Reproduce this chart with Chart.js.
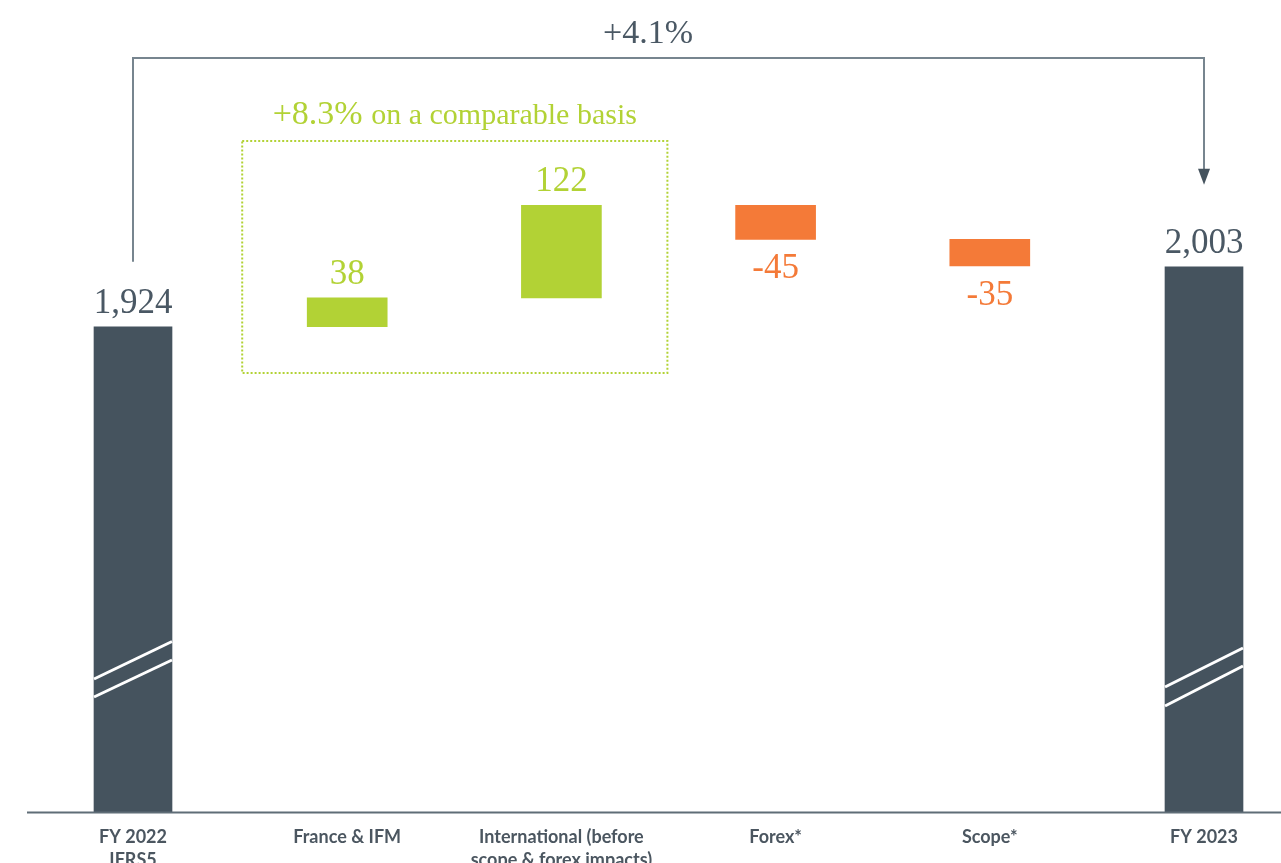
<!DOCTYPE html>
<html><head><meta charset="utf-8">
<script src="https://cdn.jsdelivr.net/npm/chart.js@4.4.1/dist/chart.umd.min.js"></script>
<style>html,body{margin:0;padding:0;background:#fff;overflow:hidden;}</style>
</head><body>
<canvas id="c" width="1281" height="863"></canvas>
<script>
// ---- data ----
const categories = [["FY 2022", "IFRS5"], "France & IFM", ["International (before", "scope & forex impacts)"], "Forex*", "Scope*", "FY 2023"];
const startTotal = 1924;
const endTotal = 2003;
const changes = [38, 122, -45, -35];
const totalGrowthLabel = "+4.1%";
const comparableGrowthLabel = "+8.3%";
const comparableText = "on a comparable basis";

// ---- styles ----
const DARK = '#45535e';
const GREEN = '#b2d235';
const ORANGE = '#f47a38';
const TEXT_DARK = '#4a5864';
const SERIF = '"Liberation Serif", serif';

const totalsData = categories.map((c, i) => i === 0 ? startTotal : (i === categories.length - 1 ? endTotal : null));
let running = startTotal;
const changesData = [null];
changes.forEach(v => { changesData.push([running, running + v]); running += v; });
changesData.push(null);
const changeValues = [null, ...changes, null];

const valueLabels = {
  id: 'valueLabels',
  afterDatasetsDraw(chart) {
    const ctx = chart.ctx;
    ctx.save();
    ctx.textAlign = 'center';
    ctx.textBaseline = 'alphabetic';
    ctx.font = '35px ' + SERIF;
    chart.getDatasetMeta(0).data.forEach((el, i) => {
      const v = totalsData[i];
      if (v == null) return;
      ctx.fillStyle = TEXT_DARK;
      ctx.fillText(v.toLocaleString('en-US'), el.x, el.y - 14);
    });
    chart.getDatasetMeta(1).data.forEach((el, i) => {
      const v = changeValues[i];
      if (v == null) return;
      const top = Math.min(el.y, el.base), bottom = Math.max(el.y, el.base);
      if (v >= 0) {
        ctx.fillStyle = GREEN;
        ctx.fillText(String(v), el.x, top - 14);
      } else {
        ctx.fillStyle = ORANGE;
        ctx.fillText(String(v), el.x, bottom + 39);
      }
    });
    // break marks on totals
    const breaks = {0: [[133, 170.5], [115, 152]], 5: [[125, 164], [106, 146]]};
    const area = chart.chartArea;
    ctx.strokeStyle = '#ffffff';
    ctx.lineWidth = 3;
    chart.getDatasetMeta(0).data.forEach((el, i) => {
      if (!breaks[i]) return;
      const l = el.x - el.width / 2, r = el.x + el.width / 2;
      breaks[i].forEach(([a, b]) => {
        ctx.beginPath();
        ctx.moveTo(l, area.bottom - a);
        ctx.lineTo(r, area.bottom - b);
        ctx.stroke();
      });
    });
    ctx.restore();
  },
  afterDraw(chart) {
    const ctx = chart.ctx;
    const area = chart.chartArea;
    const tm = chart.getDatasetMeta(0).data;
    const cm = chart.getDatasetMeta(1).data;
    ctx.save();
    // baseline axis
    ctx.strokeStyle = '#5f6d77';
    ctx.lineWidth = 2;
    ctx.beginPath();
    ctx.moveTo(27, area.bottom + 0.5);
    ctx.lineTo(chart.width, area.bottom + 0.5);
    ctx.stroke();
    // bracket arrow
    const x0 = tm[0].x, x5 = tm[5].x;
    const yTop = 58;
    ctx.strokeStyle = '#77858f';
    ctx.lineWidth = 2;
    ctx.beginPath();
    ctx.moveTo(x0, tm[0].y - 65);
    ctx.lineTo(x0, yTop);
    ctx.lineTo(x5, yTop);
    ctx.lineTo(x5, tm[5].y - 96);
    ctx.stroke();
    ctx.fillStyle = DARK;
    ctx.beginPath();
    ctx.moveTo(x5 - 6, tm[5].y - 98);
    ctx.lineTo(x5 + 6, tm[5].y - 98);
    ctx.lineTo(x5, tm[5].y - 82);
    ctx.closePath();
    ctx.fill();
    ctx.fillStyle = TEXT_DARK;
    ctx.font = '34px ' + SERIF;
    ctx.textAlign = 'center';
    ctx.textBaseline = 'alphabetic';
    ctx.fillText(totalGrowthLabel, 648, 43);
    // dotted box around comparable-basis changes
    const bl = cm[1].x - 105, br = cm[2].x + 106, bt = 141, bb = 373;
    ctx.strokeStyle = GREEN;
    ctx.lineWidth = 2;
    ctx.setLineDash([2, 2]);
    ctx.strokeRect(bl, bt, br - bl, bb - bt);
    ctx.setLineDash([]);
    // caption
    ctx.fillStyle = GREEN;
    ctx.textAlign = 'left';
    const f1 = '34px ' + SERIF, f2 = '30px ' + SERIF;
    ctx.font = f1;
    const w1 = ctx.measureText(comparableGrowthLabel + ' ').width;
    ctx.font = f2;
    const w2 = ctx.measureText(comparableText).width;
    const sx = (bl + br) / 2 - (w1 + w2) / 2;
    ctx.font = f1;
    ctx.fillText(comparableGrowthLabel + ' ', sx, 124);
    ctx.font = f2;
    ctx.fillText(comparableText, sx + w1, 124);
    ctx.restore();
  }
};

new Chart(document.getElementById('c'), {
  type: 'bar',
  data: {
    labels: categories,
    datasets: [
      {
        label: 'Totals',
        data: totalsData,
        backgroundColor: DARK,
        barThickness: 78,
        grouped: false,
        clip: {left: false, right: false, top: 0, bottom: 0}
      },
      {
        label: 'Changes',
        data: changesData,
        backgroundColor: changeValues.map(v => v == null ? 'transparent' : (v >= 0 ? GREEN : ORANGE)),
        barThickness: 80,
        grouped: false,
        clip: {left: false, right: false, top: 0, bottom: 0}
      }
    ]
  },
  options: {
    responsive: false,
    animation: false,
    layout: {padding: {left: 133, right: 77, top: 20, bottom: 0}},
    plugins: {legend: {display: false}, tooltip: {enabled: false}},
    scales: {
      x: {
        offset: false,
        grid: {display: false, drawTicks: false},
        border: {display: false},
        ticks: {autoSkip: false, maxRotation: 0, minRotation: 0, padding: 14, color: '#4b5660',
          font: {family: 'Lato', weight: 'bold', size: 18, lineHeight: 1.25}},
        afterFit(s) { s.height = 51; }
      },
      y: {display: false, min: 1285, max: 2328}
    }
  },
  plugins: [valueLabels]
});
</script>
</body></html>
